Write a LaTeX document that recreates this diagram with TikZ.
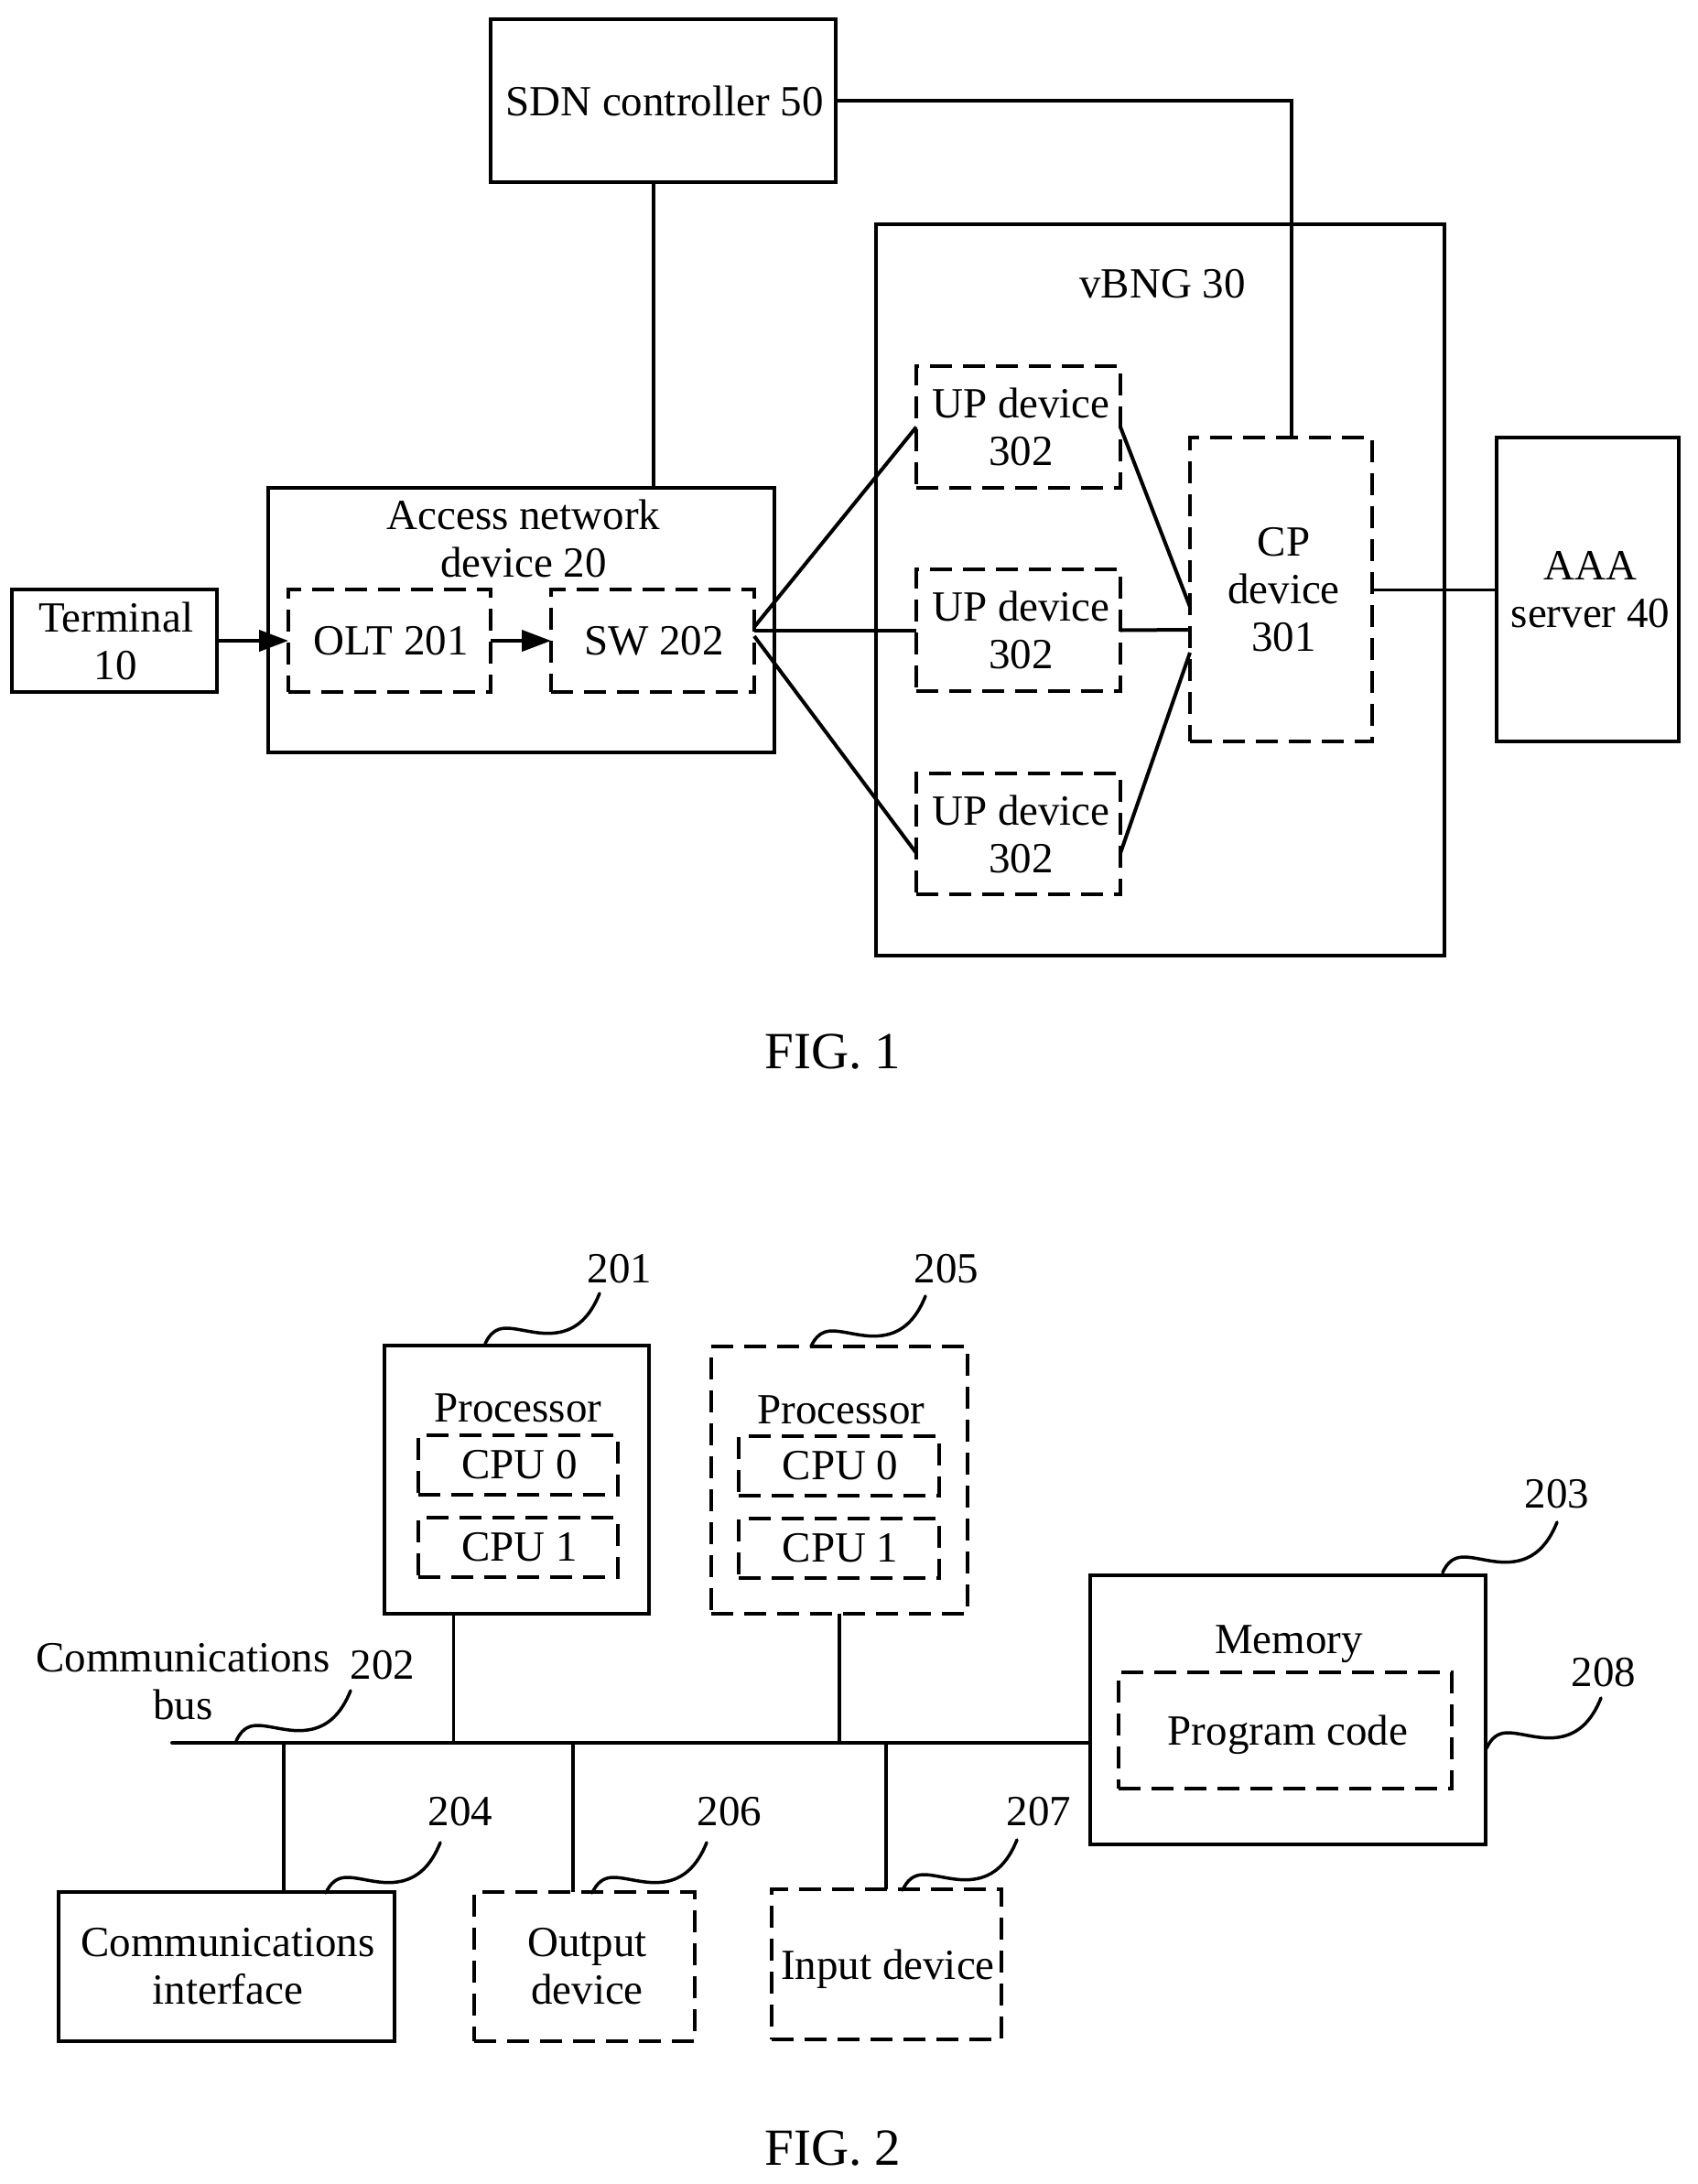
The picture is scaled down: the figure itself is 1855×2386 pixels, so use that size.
\documentclass[tikz,border=0pt]{standalone}
\usepackage{fontspec}
\setmainfont{Liberation Serif}
\usetikzlibrary{arrows.meta}
\tikzset{
  every node/.style={font=\fontsize{47}{52}\selectfont,inner sep=0pt,outer sep=0pt,align=center,text=black},
  boxsolid/.style={draw,line width=4pt,rectangle},
  boxdash/.style={draw,line width=4pt,rectangle,dash pattern=on 24pt off 12pt},
  wire/.style={line width=4pt},
  thinwire/.style={line width=3pt},
  arrowwire/.style={line width=4pt,-{Triangle[length=32pt,width=23pt]}},
  figlabel/.style={font=\fontsize{57}{60}\selectfont},
  pics/leader/.style={code={\draw[line width=3.5pt,line cap=round] (0,0) .. controls (5,-11) and (12,-17) .. (23,-17) .. controls (38,-17) and (58,-9) .. (78,-12) .. controls (100,-15) and (115,-30) .. (125,-55);}}
}
% \Bx{style}{name}{x1}{y1}{x2}{y2}{text}
\newcommand\Bx[7]{\node[#1,minimum width={(#5-#3)*1pt},minimum height={(#6-#4)*1pt}] (#2) at ({(#3+#5)/2},{(#4+#6)/2}) {#7};}
\newcommand\nudge{\hspace*{3pt}}
\begin{document}
\begin{tikzpicture}[x=1pt,y=-1pt]
\useasboundingbox[fill=white] (0,0) rectangle (1855,2386);
% FIG. 1
\Bx{boxsolid}{sdn}{536}{21}{913}{199}{\nudge SDN controller 50}
\Bx{boxsolid}{vbng}{957}{245}{1578}{1044}{}
\Bx{boxsolid}{access}{293}{533}{846}{822}{}
\Bx{boxsolid}{term}{13}{644}{237}{756}{\nudge Terminal\\\nudge 10}
\Bx{boxdash}{olt}{315}{644}{536}{756}{\nudge OLT 201}
\Bx{boxdash}{sw}{602}{644}{824}{756}{\nudge SW 202}
\Bx{boxdash}{upa}{1001}{400}{1224}{533}{\nudge\nudge UP device\\\nudge\nudge 302}
\Bx{boxdash}{upb}{1001}{622}{1224}{755}{\nudge\nudge UP device\\\nudge\nudge 302}
\Bx{boxdash}{upc}{1001}{845}{1224}{977}{\nudge\nudge UP device\\\nudge\nudge 302}
\Bx{boxdash}{cp}{1300}{478}{1499}{810}{\nudge\nudge CP\\\nudge\nudge device\\\nudge\nudge 301}
\Bx{boxsolid}{aaa}{1635}{478}{1834}{810}{\nudge\nudge AAA\\\nudge\nudge server 40}
\node (accesstxt) at (572,588) {Access network\\device 20};
\node (vbngtxt) at (1270,310) {vBNG 30};
\node[figlabel] (figa) at (910,1149) {FIG. 1};
\coordinate (swa) at (824,685);
\coordinate (swb) at (824,689);
\coordinate (swc) at (824,695);
\coordinate (cpa) at (1300,663);
\coordinate (cpb) at (1300,688);
\coordinate (cpc) at (1300,713);
\coordinate (upcw) at (1001,932);
\coordinate (upce) at (1224,932);
\coordinate (sdndrop) at (714,0);
\coordinate (cpdrop) at (1411,0);
\draw[wire] (sdndrop |- sdn.south) -- (sdndrop |- access.north);
\draw[wire] (sdn.east) -| (cpdrop |- cp.north);
\draw[arrowwire] (term.east |- olt.west) -- (olt.west);
\draw[arrowwire] (olt.east) -- (sw.west);
\draw[wire] (swa) -- (upa.west);
\draw[wire] (swb) -- (swb -| upb.west);
\draw[wire] (swc) -- (upcw);
\draw[wire] (upa.east) -- (cpa);
\draw[wire] (upb.east) -- (cpb);
\draw[wire] (upce) -- (cpc);
\draw[thinwire] (cp.east) -- (aaa.west);
% FIG. 2
\Bx{boxsolid}{proca}{420}{1470}{709}{1763}{}
\node (procatxt) at (566,1538) {Processor};
\Bx{boxdash}{cpuaa}{457}{1568}{675}{1633}{\nudge CPU 0}
\Bx{boxdash}{cpuab}{457}{1658}{675}{1723}{\nudge CPU 1}
\Bx{boxdash}{procb}{777}{1471}{1057}{1763}{}
\node (procbtxt) at (919,1540) {Processor};
\Bx{boxdash}{cpuba}{807}{1569}{1026}{1634}{\nudge CPU 0}
\Bx{boxdash}{cpubb}{807}{1659}{1026}{1724}{\nudge CPU 1}
\Bx{boxsolid}{mem}{1191}{1721}{1623}{2015}{}
\node (memtxt) at (1408,1796) {Memory};
\Bx{boxdash,text depth=0pt}{prog}{1222}{1827}{1586}{1954}{\nudge\nudge Program code}
\Bx{boxsolid}{comm}{64}{2067}{431}{2230}{\nudge Communications\\\nudge interface}
\Bx{boxdash}{out}{518}{2067}{759}{2230}{\nudge\nudge Output\\\nudge\nudge device}
\Bx{boxdash,text depth=0pt}{inp}{843}{2064}{1094}{2228}{\nudge Input device}
\node (bustxt) at (200,1837) {Communications\\bus};
\coordinate (busstart) at (188,1904);
\coordinate (ja) at (495,1904);
\coordinate (jb) at (917,1904);
\coordinate (jc) at (310,1904);
\coordinate (jd) at (626,1904);
\coordinate (je) at (968,1904);
\draw[wire,line cap=round] (busstart) -- (busstart -| mem.west);
\draw[thinwire] (ja |- proca.south) -- (ja);
\draw[wire] (jb |- procb.south) -- (jb);
\draw[wire] (jc) -- (jc |- comm.north);
\draw[wire] (jd) -- (jd |- out.north);
\draw[wire] (je) -- (je |- inp.north);
% leaders
\pic at (530,1468) {leader};
\pic at (886,1471) {leader};
\pic at (1576,1718) {leader};
\pic at (1624,1910) {leader};
\pic at (258,1902) {leader};
\pic at (356,2068) {leader};
\pic at (647,2068) {leader};
\pic at (986,2065) {leader};
\node (la) at (677,1386) {201};
\node (lb) at (1034,1386) {205};
\node (lc) at (1701,1632) {203};
\node (ld) at (1752,1827) {208};
\node (le) at (418,1819) {202};
\node (lf) at (503,1979) {204};
\node (lg) at (797,1979) {206};
\node (lh) at (1135,1979) {207};
\node[figlabel] (figb) at (910,2347) {FIG. 2};
\end{tikzpicture}
\end{document}
